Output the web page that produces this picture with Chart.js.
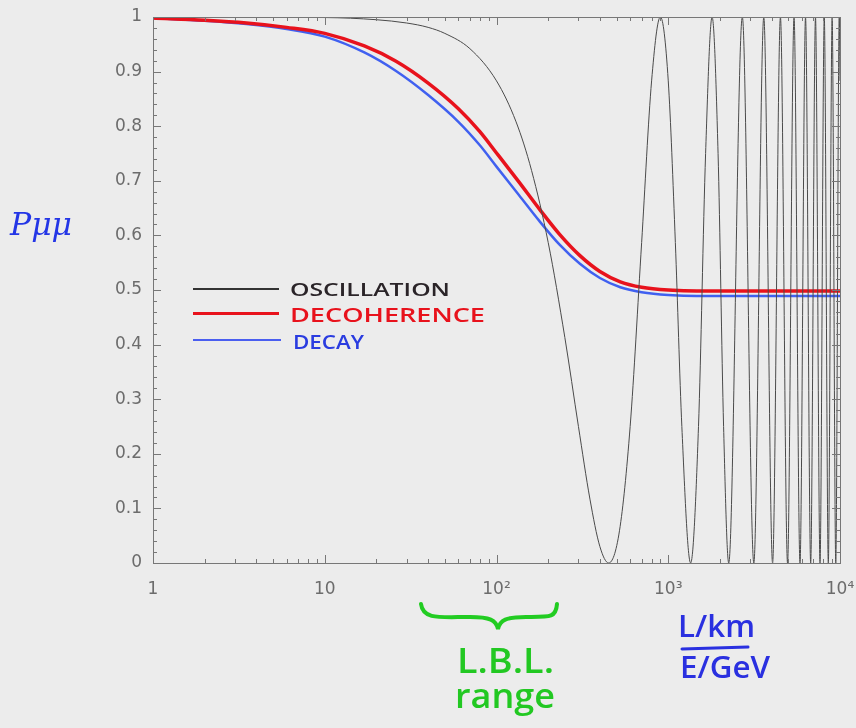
<!DOCTYPE html>
<html><head><meta charset="utf-8">
<script src="https://cdn.jsdelivr.net/npm/chart.js@4/dist/chart.umd.min.js"></script>
<style>
html,body{margin:0;padding:0;background:#ececec;}
#wrap{position:relative;width:856px;height:728px;overflow:hidden;background:#ececec;}
#c{position:absolute;left:0;top:0;}
.t{position:absolute;white-space:nowrap;line-height:1;transform-origin:0 0;}
.hand{font-family:"Open Sans","DejaVu Sans",sans-serif;font-weight:600;}
.ln{position:absolute;}
</style></head><body>
<div id="wrap">
<canvas id="c" width="856" height="728"></canvas>

<div class="ln" style="left:193px;top:288px;width:86px;height:2px;background:#333;"></div>
<div class="ln" style="left:193px;top:312px;width:86px;height:3px;background:#e8121c;"></div>
<div class="ln" style="left:193px;top:339px;width:88px;height:2px;background:#4a5ef0;"></div>
<div class="t hand" id="lg0" data-w="160" style="left:290px;top:280px;font-size:18px;color:#2a2428;">OSCILLATION</div>
<div class="t hand" id="lg1" data-w="195" style="left:290px;top:305px;font-size:20px;color:#e8121c;">DECOHERENCE</div>
<div class="t hand" id="lg2" data-w="71" style="left:293px;top:332px;font-size:20px;color:#2a3ce0;">DECAY</div>

<div class="t" id="pmm" data-w="62" style="left:10px;top:208px;font-family:'DejaVu Serif',serif;font-style:italic;font-size:32px;color:#2436e6;">Pμμ</div>

<svg style="position:absolute;left:0;top:0;" width="856" height="728">
  <path d="M421,604 C423,620 440,617 470,617 C490,617 496,620 498,629 C500,620 506,617 526,617 C550,617 556,618 557,604" fill="none" stroke="#22cc22" stroke-width="4" stroke-linecap="round"/>
  <line x1="682" y1="649" x2="748" y2="647" stroke="#2a30e0" stroke-width="3" stroke-linecap="round"/>
</svg>
<div class="t hand" id="lbl" data-w="97" style="left:457px;top:643px;font-size:34px;color:#22c822;">L.B.L.</div>
<div class="t hand" id="rng" data-w="100" style="left:455px;top:678px;font-size:34px;color:#22c822;">range</div>
<div class="t hand" id="lkm" data-w="77" style="left:678px;top:611px;font-size:30px;color:#2a30e0;">L/km</div>
<div class="t hand" id="egv" data-w="90" style="left:680px;top:652px;font-size:30px;color:#2a30e0;">E/GeV</div>
</div>

<script>
// ---- data ----
const seriesNames = ['OSCILLATION', 'DECOHERENCE', 'DECAY'];
const xTickValues = [1, 10, 100, 1000, 10000];
const xTickLabels = ['1', '10', '10²', '10³', '10⁴'];
const yTickValues = [0, 0.1, 0.2, 0.3, 0.4, 0.5, 0.6, 0.7, 0.8, 0.9, 1];
const yTickLabels = ['0', '0.1', '0.2', '0.3', '0.4', '0.5', '0.6', '0.7', '0.8', '0.9', '1'];

const oscL = [1, 10, 20, 30, 40, 50, 70, 100, 130, 160,
              200, 250, 300, 350, 400, 450, 520, 600, 700, 800,
              900, 1000, 1100, 1200, 1350, 1500, 1650, 1800, 1950, 2100,
              2250, 2700, 3150, 3600, 4050, 4500, 4950, 5400, 5850, 6300,
              6750, 7200, 7650, 8100, 8550, 9000, 9450, 9900, 10000];
const oscP = [1, 0.999, 0.995, 0.989, 0.981, 0.970, 0.942, 0.883, 0.808, 0.719,
              0.587, 0.413, 0.25, 0.117, 0.030, 0, 0.059, 0.25, 0.587, 0.883,
              1, 0.883, 0.587, 0.25, 0, 0.25, 0.75, 1, 0.75, 0.25,
              0, 1, 0, 1, 0, 1, 0, 1, 0, 1,
              0, 1, 0, 1, 0, 1, 0, 1, 0.883];

const decohL = [1, 2, 3.5, 6, 10, 17, 26, 40, 60, 80, 100, 135, 177, 233, 306, 400, 526, 700, 1000, 2000, 10000];
const decohP = [0.998, 0.994, 0.989, 0.981, 0.970, 0.947, 0.919, 0.879, 0.832, 0.790, 0.751, 0.698, 0.649, 0.602, 0.563, 0.534, 0.515, 0.505, 0.500, 0.498, 0.498];

const decayL = [1, 2, 3.5, 6, 10, 17, 26, 40, 60, 80, 100, 135, 177, 233, 306, 400, 526, 700, 1000, 2000, 10000];
const decayP = [0.998, 0.993, 0.987, 0.978, 0.964, 0.935, 0.901, 0.857, 0.808, 0.765, 0.726, 0.674, 0.627, 0.583, 0.548, 0.522, 0.505, 0.496, 0.491, 0.489, 0.489];

// ---- helpers ----
const pts = (xs, ys) => xs.map((v, i) => ({x: v, y: ys[i]}));

const frameTicks = {
  id: 'frameTicks',
  afterDatasetsDraw(chart) {
    const {ctx, chartArea: a, scales: {x, y}} = chart;
    ctx.save();
    ctx.strokeStyle = '#777';
    ctx.lineWidth = 1;
    ctx.strokeRect(Math.round(a.left) + 0.5, Math.round(a.top) + 0.5,
                   Math.round(a.right - a.left), Math.round(a.bottom - a.top));
    ctx.beginPath();
    for (let d = 1; d <= 10000; d *= 10) {
      for (let m = 1; m <= 9; m++) {
        const v = d * m;
        if (v > 10000) break;
        const px = Math.round(x.getPixelForValue(v)) + 0.5;
        const len = m === 1 ? 8 : 4;
        ctx.moveTo(px, a.bottom); ctx.lineTo(px, a.bottom - len);
        ctx.moveTo(px, a.top); ctx.lineTo(px, a.top + len);
      }
    }
    for (let i = 0; i <= 50; i++) {
      const py = Math.round(y.getPixelForValue(i * 0.02)) + 0.5;
      const len = i % 5 === 0 ? 8 : 4;
      ctx.moveTo(a.left, py); ctx.lineTo(a.left + len, py);
      ctx.moveTo(a.right, py); ctx.lineTo(a.right - len, py);
    }
    ctx.stroke();
    ctx.restore();
  }
};

const tickFont = {family: 'DejaVu Sans', size: 17};
const tickColor = '#6c6c6c';

new Chart(document.getElementById('c'), {
  type: 'line',
  data: {
    datasets: [
      {label: seriesNames[0], data: pts(oscL, oscP), borderColor: '#4a4a4a', borderWidth: 1,
       pointRadius: 0, cubicInterpolationMode: 'monotone', order: 0},
      {label: seriesNames[1], data: pts(decohL, decohP), borderColor: '#e8121c', borderWidth: 3.5,
       pointRadius: 0, cubicInterpolationMode: 'monotone', order: 1},
      {label: seriesNames[2], data: pts(decayL, decayP), borderColor: '#4060f0', borderWidth: 2.5,
       pointRadius: 0, cubicInterpolationMode: 'monotone', order: 2}
    ]
  },
  options: {
    responsive: false,
    animation: false,
    devicePixelRatio: 1,
    layout: {padding: {top: 17, right: 16, left: 0, bottom: 0}},
    plugins: {legend: {display: false}, tooltip: {enabled: false}},
    scales: {
      x: {
        type: 'logarithmic', min: 1, max: 10000,
        afterBuildTicks(s) { s.ticks = xTickValues.map(v => ({value: v})); },
        afterFit(s) { s.height = 165; s.paddingLeft = 0; s.paddingRight = 0; },
        ticks: {callback: (v, i) => xTickLabels[i], autoSkip: false, maxRotation: 0,
                padding: 16, color: tickColor, font: tickFont},
        grid: {display: false, drawTicks: false},
        border: {display: false}
      },
      y: {
        min: 0, max: 1,
        afterBuildTicks(s) { s.ticks = yTickValues.map(v => ({value: v})); },
        afterFit(s) { s.width = 153; s.paddingTop = 0; s.paddingBottom = 0; },
        ticks: {callback: (v, i) => yTickLabels[i], autoSkip: false,
                padding: 11, color: tickColor, font: tickFont},
        grid: {display: false, drawTicks: false},
        border: {display: false}
      }
    }
  },
  plugins: [frameTicks]
});

// fit annotation text widths to the reference
document.querySelectorAll('.t[data-w]').forEach(el => {
  const w = el.getBoundingClientRect().width;
  el.style.transform = 'scaleX(' + (parseFloat(el.dataset.w) / w) + ')';
});
</script>
</body></html>
